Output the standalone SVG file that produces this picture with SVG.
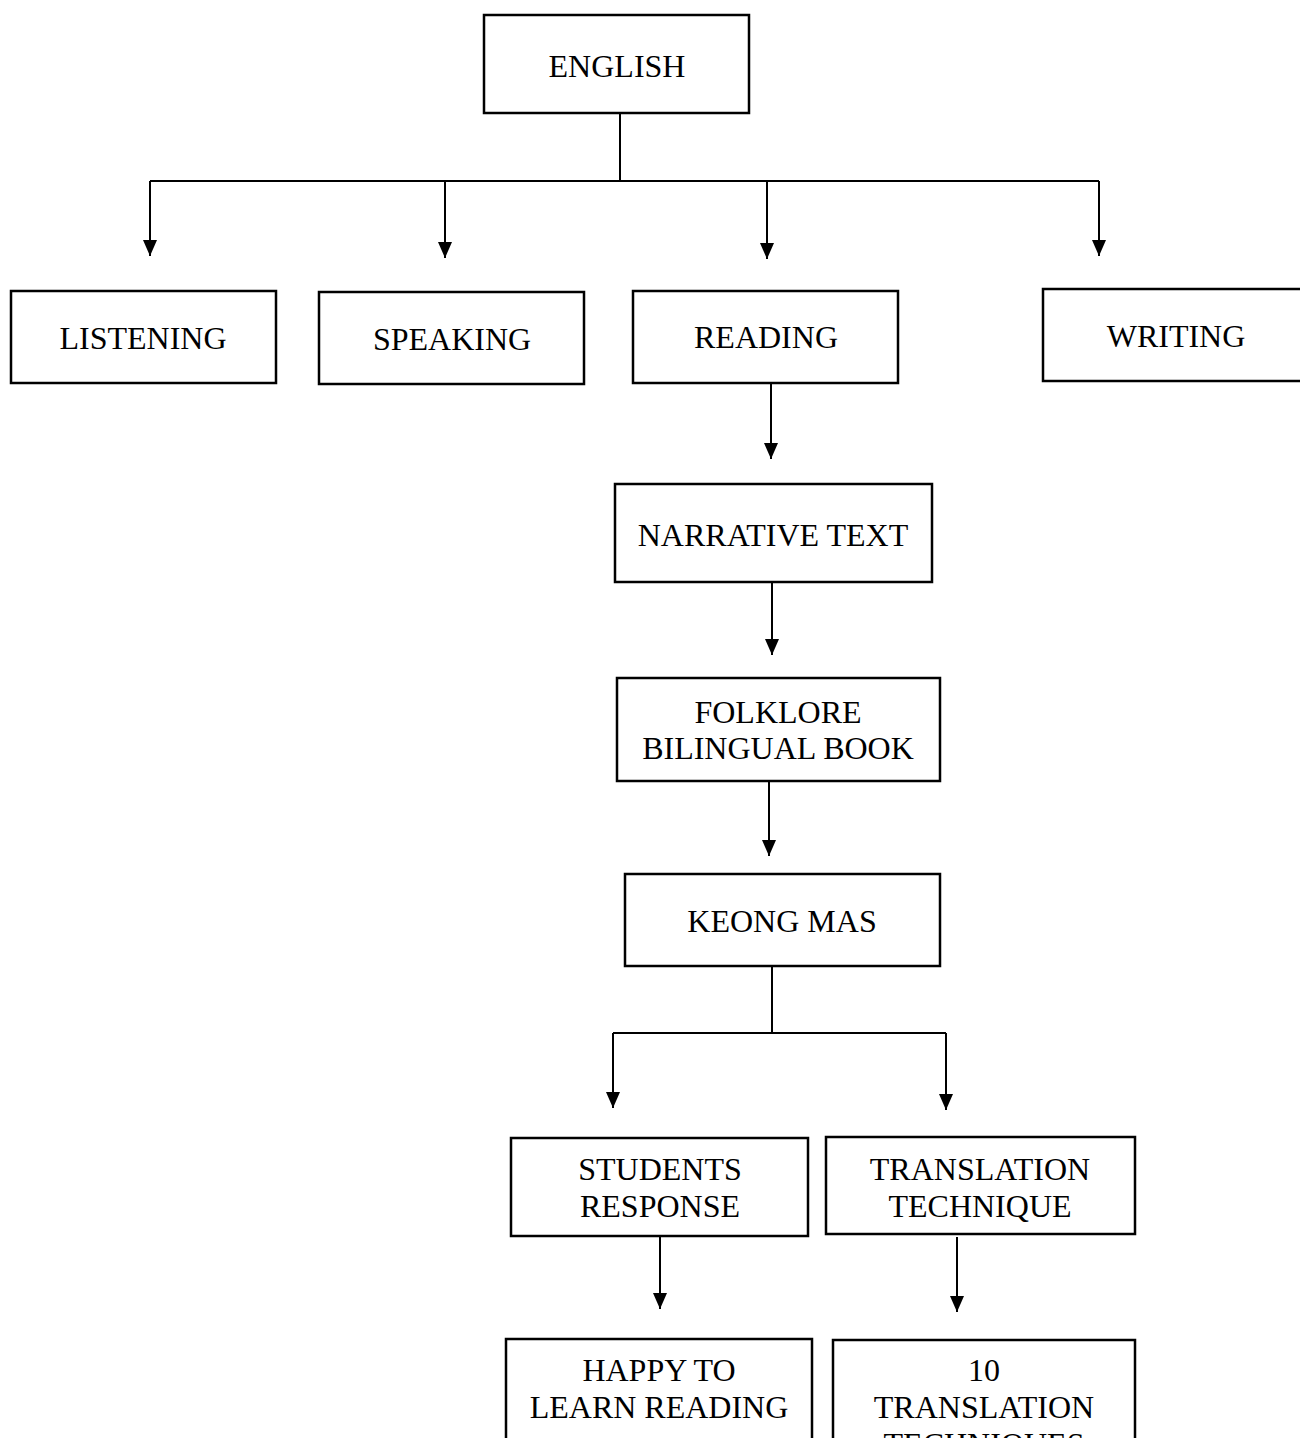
<svg xmlns="http://www.w3.org/2000/svg" width="1300" height="1438" viewBox="0 0 1300 1438">
<style>
.box{fill:#fff;stroke:#000;stroke-width:2.5}
.lbl{font-family:"Liberation Serif","Times New Roman",serif;font-size:32px;fill:#000;text-anchor:middle}
.ln{fill:none;stroke:#000;stroke-width:2}
</style>
<defs>
<marker id="ah" markerUnits="userSpaceOnUse" markerWidth="14" markerHeight="16" refX="7" refY="16" orient="0" viewBox="0 0 14 16">
<path d="M0,0 L14,0 L7,16 Z" fill="#000"/>
</marker>
</defs>
<rect width="1300" height="1438" fill="#fff"/>
<g id="connectors">
<path class="ln" d="M620,113 V181 M150,181 H1099"/>
<path class="ln" d="M150,181 V256" marker-end="url(#ah)"/>
<path class="ln" d="M445,181 V258" marker-end="url(#ah)"/>
<path class="ln" d="M767,181 V259" marker-end="url(#ah)"/>
<path class="ln" d="M1099,181 V256" marker-end="url(#ah)"/>
<path class="ln" d="M771,383 V459" marker-end="url(#ah)"/>
<path class="ln" d="M772,582 V655" marker-end="url(#ah)"/>
<path class="ln" d="M769,781 V856" marker-end="url(#ah)"/>
<path class="ln" d="M772,966 V1033 M613,1033 H946"/>
<path class="ln" d="M613,1033 V1108" marker-end="url(#ah)"/>
<path class="ln" d="M946,1033 V1110" marker-end="url(#ah)"/>
<path class="ln" d="M660,1236 V1309" marker-end="url(#ah)"/>
<path class="ln" d="M957,1237 V1312" marker-end="url(#ah)"/>
</g>
<g id="english"><rect class="box" x="484" y="15" width="265" height="98"/><text class="lbl" x="617" y="77">ENGLISH</text></g>
<g id="listening"><rect class="box" x="11" y="291" width="265" height="92"/><text class="lbl" x="143" y="349">LISTENING</text></g>
<g id="speaking"><rect class="box" x="319" y="292" width="265" height="92"/><text class="lbl" x="452" y="350">SPEAKING</text></g>
<g id="reading"><rect class="box" x="633" y="291" width="265" height="92"/><text class="lbl" x="766" y="348">READING</text></g>
<g id="writing"><rect class="box" x="1043" y="289" width="266" height="92"/><text class="lbl" x="1176" y="347">WRITING</text></g>
<g id="narrative"><rect class="box" x="615" y="484" width="317" height="98"/><text class="lbl" x="773" y="546">NARRATIVE TEXT</text></g>
<g id="folklore"><rect class="box" x="617" y="678" width="323" height="103"/><text class="lbl" x="778" y="723">FOLKLORE</text><text class="lbl" x="778" y="759">BILINGUAL BOOK</text></g>
<g id="keong"><rect class="box" x="625" y="874" width="315" height="92"/><text class="lbl" x="782" y="932">KEONG MAS</text></g>
<g id="students"><rect class="box" x="511" y="1138" width="297" height="98"/><text class="lbl" x="660" y="1180">STUDENTS</text><text class="lbl" x="660" y="1217">RESPONSE</text></g>
<g id="technique"><rect class="box" x="826" y="1137" width="309" height="97"/><text class="lbl" x="980" y="1180">TRANSLATION</text><text class="lbl" x="980" y="1217">TECHNIQUE</text></g>
<g id="happy"><rect class="box" x="506" y="1339" width="306" height="120"/><text class="lbl" x="659" y="1381">HAPPY TO</text><text class="lbl" x="659" y="1418">LEARN READING</text></g>
<g id="techniques10"><rect class="box" x="833" y="1340" width="302" height="140"/><text class="lbl" x="984" y="1381">10</text><text class="lbl" x="984" y="1418">TRANSLATION</text><text class="lbl" x="984" y="1455">TECHNIQUES</text></g>
</svg>
